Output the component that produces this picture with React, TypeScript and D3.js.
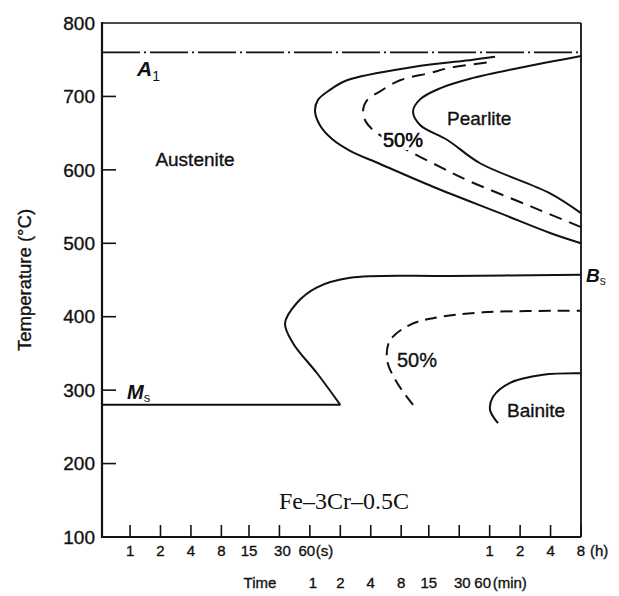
import React from "react";
import * as d3 from "d3";

// temperature axis (°C) and time axis (s)
const tempTicks = [100, 200, 300, 400, 500, 600, 700, 800];
const timeTicks = [1, 2, 4, 8, 15, 30, 60, 120, 240, 480, 900, 1800, 3600, 7200, 14400, 28800];
const secLabels = [1, 2, 4, 8, 15, 30, 60];
const minLabels = [1, 2, 4, 8, 15, 30, 60];
const hourLabels = [1, 2, 4, 8];

const a1Temp = 760;
const msTemp = 280;
const msEndTime = 120;

// [time s, temperature °C]
const pearliteStart: [number, number][] = [
  [28800, 500], [14240, 514], [4560, 541], [992, 577], [297, 608], [150, 626],
  [99.5, 642], [76, 660], [67.5, 680], [72, 695], [95, 709], [140, 722],
  [629, 740], [2466, 750], [4070, 754],
];
const pearliteHalf: [number, number][] = [
  [28800, 522], [9670, 549], [2150, 586], [1162, 604], [549, 627], [277, 650],
  [216, 665], [201, 679], [221, 695], [297, 707], [468, 722], [926, 732],
  [1460, 739], [3800, 747],
];
const pearliteFinish: [number, number][] = [
  [28800, 541], [14240, 568], [2893, 609], [1363, 641], [738, 661], [629, 680],
  [738, 696], [1163, 711], [2300, 724], [7190, 739], [28800, 755],
];
const bainiteStart: [number, number][] = [
  [120, 280], [70.7, 323], [40.9, 364], [34.1, 391], [44.8, 419], [70.7, 440],
  [150, 453], [1460, 455.5], [28800, 457],
];
const bainiteHalf: [number, number][] = [
  [629, 280], [437, 310], [348, 341], [373, 368], [587, 389], [992, 398],
  [3097, 406], [28800, 408],
];
const bainiteFinish: [number, number][] = [
  [4357, 255], [3635, 273], [3890, 291], [5720, 310], [12150, 321], [28800, 323],
];

const W = 619;
const H = 596;
const left = 102, right = 581, top = 23, bottom = 537;

const sans = "'Liberation Sans', Arial, Helvetica, sans-serif";
const ink = "#111";

export default function App() {
  const x = d3.scaleLog().domain([0.528, 28800]).range([left, right]);
  const y = d3.scaleLinear().domain([100, 800]).range([bottom, top]);

  const line = d3
    .line<[number, number]>()
    .x((d) => x(d[0]))
    .y((d) => y(d[1]))
    .curve(d3.curveCatmullRom.alpha(0.5));

  const curves = [
    { d: pearliteStart, dash: null },
    { d: pearliteHalf, dash: "13,8" },
    { d: pearliteFinish, dash: null },
    { d: bainiteStart, dash: null },
    { d: bainiteHalf, dash: "12,7" },
    { d: bainiteFinish, dash: null },
  ];

  // crowded labels get nudged a little, as in the print
  const secNudge: Record<number, number> = { 30: 3, 60: -3 };
  const minNudge: Record<number, number> = { 1: 3, 30: 3, 60: -7 };
  const heavy = { stroke: ink, strokeWidth: 0.35 };

  return (
    <svg
      width={W}
      height={H}
      style={{ position: "absolute", left: 0, top: 0, background: "#fff" }}
      fontFamily={sans}
    >
      {/* frame */}
      <line x1={left} x2={right} y1={top} y2={top} stroke={ink} strokeWidth={1.6} />
      <line x1={right} x2={right} y1={top} y2={bottom} stroke={ink} strokeWidth={1.8} />
      <line x1={left} x2={right} y1={bottom} y2={bottom} stroke={ink} strokeWidth={1.8} />
      <line x1={left} x2={left} y1={top - 1} y2={bottom + 1} stroke={ink} strokeWidth={2.2} />

      {/* temperature ticks */}
      {tempTicks.map((t) => (
        <g key={t}>
          {t > 100 && t < 800 && (
            <line x1={left} x2={left + 14} y1={y(t)} y2={y(t)} stroke={ink} strokeWidth={1.6} />
          )}
          <text x={95} y={y(t)} dy="0.35em" textAnchor="end" fontSize={19} fill={ink} {...heavy}>
            {t}
          </text>
        </g>
      ))}
      <text
        transform={`translate(25,${(top + bottom) / 2}) rotate(-90)`}
        textAnchor="middle"
        dy="0.35em"
        fontSize={18.5}
        fill={ink}
        {...heavy}
      >
        Temperature (°C)
      </text>

      {/* time ticks */}
      {timeTicks.map((t) => (
        <line key={t} x1={x(t)} x2={x(t)} y1={bottom} y2={bottom - 12} stroke={ink} strokeWidth={1.6} />
      ))}
      <g fontSize={15} fill={ink} {...heavy}>
        {secLabels.map((s) => (
          <text key={"s" + s} x={x(s) + (secNudge[s] || 0)} y={556} textAnchor="middle">
            {s}
          </text>
        ))}
        <text x={x(60) + 6} y={556}>(s)</text>
        {hourLabels.map((h) => (
          <text key={"h" + h} x={x(h * 3600)} y={556} textAnchor="middle">
            {h}
          </text>
        ))}
        <text x={x(8 * 3600) + 9} y={556}>(h)</text>
        {minLabels.map((m) => (
          <text key={"m" + m} x={x(m * 60) + (minNudge[m] || 0)} y={588} textAnchor="middle">
            {m}
          </text>
        ))}
        <text x={x(3600) + 3} y={588}>(min)</text>
        <text x={260} y={588} textAnchor="middle">Time</text>
      </g>

      {/* A1 and Ms lines */}
      <line
        x1={left}
        x2={right}
        y1={y(a1Temp)}
        y2={y(a1Temp)}
        stroke={ink}
        strokeWidth={1.6}
        strokeDasharray="38,4,2,4"
      />
      <line x1={left} x2={x(msEndTime)} y1={y(msTemp)} y2={y(msTemp)} stroke={ink} strokeWidth={2} />

      {/* transformation curves */}
      {curves.map((c, i) => (
        <path
          key={i}
          d={line(c.d) || ""}
          fill="none"
          stroke={ink}
          strokeWidth={2}
          strokeDasharray={c.dash || undefined}
        />
      ))}

      {/* labels */}
      <text x={137} y={76} fontSize={21} fontStyle="italic" fontWeight="bold" fill={ink}>
        A<tspan fontSize={14} fontStyle="normal" fontWeight="normal" dy={5}>1</tspan>
      </text>
      <text x={127} y={399} fontSize={20} fontStyle="italic" fontWeight="bold" fill={ink}>
        M<tspan fontSize={13} fontStyle="normal" fontWeight="normal" dy={3}>s</tspan>
      </text>
      <text x={586} y={282} fontSize={19} fontStyle="italic" fontWeight="bold" fill={ink}>
        B<tspan fontSize={12} fontStyle="normal" fontWeight="normal" dy={3}>s</tspan>
      </text>
      <g fill={ink} {...heavy}>
        <text x={195} y={166} textAnchor="middle" fontSize={19}>Austenite</text>
        <text x={447} y={125} fontSize={19}>Pearlite</text>
        <text x={397} y={367} fontSize={20}>50%</text>
        <text x={507} y={417} fontSize={19}>Bainite</text>
      </g>
      <text x={383} y={147} fontSize={20} fill={ink} stroke="#fff" strokeWidth={6} paintOrder="stroke">
        50%
      </text>
      <text x={383} y={147} fontSize={20} fill={ink} {...heavy}>
        50%
      </text>
      <text
        x={344}
        y={509}
        textAnchor="middle"
        fontFamily="'Liberation Serif', 'Times New Roman', serif"
        fontSize={24}
        fill={ink}
      >
        Fe–3Cr–0.5C
      </text>
    </svg>
  );
}
